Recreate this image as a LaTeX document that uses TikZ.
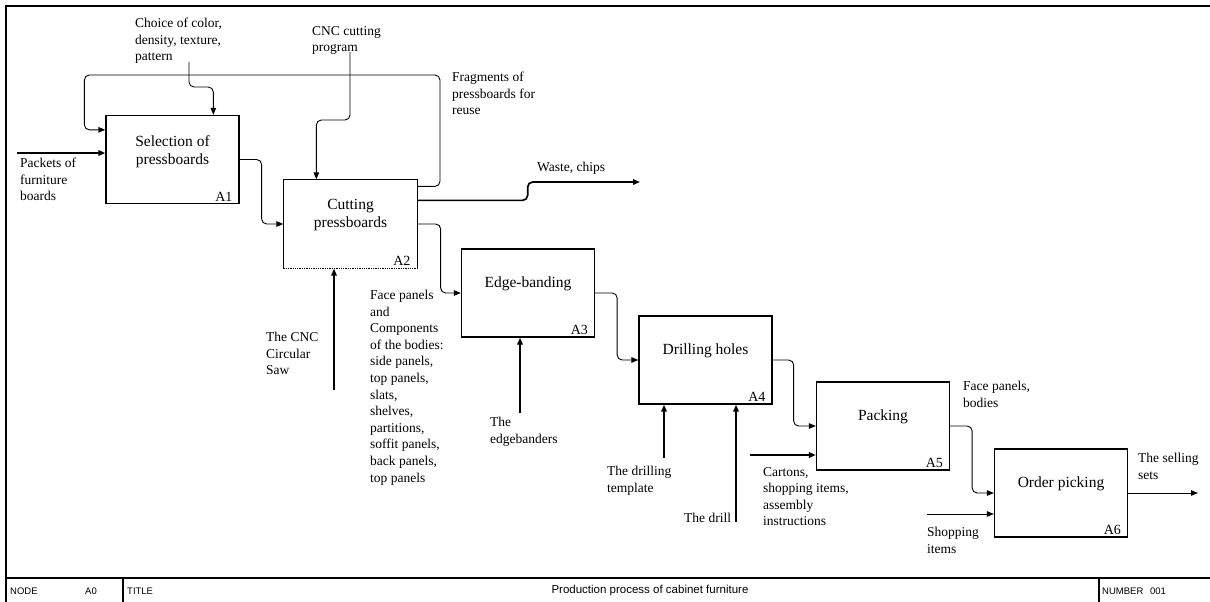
\documentclass[tikz,border=0pt]{standalone}
\usepackage{fontspec}
\setmainfont{Liberation Serif}
\newfontfamily\footfont{Liberation Sans}
\usetikzlibrary{arrows.meta,calc}
\begin{document}
\begin{tikzpicture}[x=1pt,y=-1pt,
  box/.style={draw, line width=1.3pt, minimum width=133pt, minimum height=88pt, inner sep=0pt},
  ttl/.style={font=\fontsize{15.5}{18.5}\selectfont, align=center, inner sep=0pt},
  boxid/.style={font=\fontsize{14}{16}\selectfont, inner sep=0pt, anchor=base east},
  lbl/.style={font=\fontsize{13.5}{16.6}\selectfont, align=left, inner sep=0pt, anchor=north west},
  foot/.style={font=\footfont\fontsize{9.5}{11}\selectfont, inner sep=0pt},
  tip/.style={-{Triangle[length=7pt,width=5.5pt]}},
  conn/.style={draw, line width=0.9pt, rounded corners=5pt, tip},
  thk/.style={draw, line width=1.7pt, rounded corners=5pt, tip},
  frame/.style={draw, line width=1.4pt}]
\useasboundingbox (0,0) rectangle (1210,602);
% frame
\draw[frame] (6,602) -- (6,6) -- (1210,6);
\draw[frame] (6,578) -- (1210,578);
\draw[frame] (123,578) -- (123,602);
\draw[frame] (1099,578) -- (1099,602);
\node[foot, anchor=west] (fnode) at (10,591) {NODE};
\node[foot] (fa0) at (91,591) {A0};
\node[foot, anchor=west] (ftitle) at (127,591) {TITLE};
\node[foot, font=\footfont\fontsize{11.5}{13}\selectfont] (fname) at (650,591) {Production process of cabinet furniture};
\node[foot, anchor=west] (fnum) at (1102,591) {NUMBER};
\node[foot] (f001) at (1158,591) {001};
% boxes
\node[box] (A1) at (172.5,159.5) {};
\node[box, draw=none] (A2) at (350.5,224) {};
\draw[line width=1.3pt] (A2.south west) -- (A2.north west) -- (A2.north east) -- (A2.south east);
\draw[line width=1.3pt, densely dotted] (A2.south west) -- (A2.south east);
\node[box] (A3) at (528,293) {};
\node[box] (A4) at (705.5,360) {};
\node[box] (A5) at (883,426) {};
\node[box] (A6) at (1061,493) {};
\node[ttl] (A1t) at ([yshift=8pt]A1.center) {Selection of\\pressboards};
\node[ttl] (A2t) at ([yshift=9pt]A2.center) {Cutting\\pressboards};
\node[ttl] (A3t) at ([yshift=9pt]A3.center) {Edge-banding};
\node[ttl] (A4t) at ([yshift=9pt]A4.center) {Drilling holes};
\node[ttl] (A5t) at ([yshift=9pt]A5.center) {Packing};
\node[ttl] (A6t) at ([yshift=9pt]A6.center) {Order picking};
\node[boxid] (A1id) at ([xshift=-7pt,yshift=3pt]A1.south east) {A1};
\node[boxid] (A2id) at ([xshift=-7pt,yshift=3pt]A2.south east) {A2};
\node[boxid] (A3id) at ([xshift=-7pt,yshift=3pt]A3.south east) {A3};
\node[boxid] (A4id) at ([xshift=-7pt,yshift=3pt]A4.south east) {A4};
\node[boxid] (A5id) at ([xshift=-7pt,yshift=3pt]A5.south east) {A5};
\node[boxid] (A6id) at ([xshift=-7pt,yshift=3pt]A6.south east) {A6};
% labels
\node[lbl] (Lpack) at (20,158) {Packets of\\furniture\\boards};
\node[lbl] (Lchoice) at (135,18) {Choice of color,\\density, texture,\\pattern};
\node[lbl] (Lcnc) at (312,26) {CNC cutting\\program};
\node[lbl] (Lfrag) at (452,72) {Fragments of\\pressboards for\\reuse};
\node[lbl] (Lwaste) at (537,162) {Waste, chips};
\node[lbl] (Lsaw) at (266,332) {The CNC\\Circular\\Saw};
\node[lbl] (Lface) at (370,290) {Face panels\\and\\Components\\of the bodies:\\side panels,\\top panels,\\slats,\\shelves,\\partitions,\\soffit panels,\\back panels,\\top panels};
\node[lbl] (Ledge) at (490,417) {The\\edgebanders};
\node[lbl] (Ltempl) at (607,466) {The drilling\\template};
\node[lbl] (Ldrill) at (684,513) {The drill};
\node[lbl] (Lcart) at (763,467) {Cartons,\\shopping items,\\assembly\\instructions};
\node[lbl] (Lfb) at (963,381) {Face panels,\\bodies};
\node[lbl] (Lshop) at (927,527) {Shopping\\items};
\node[lbl] (Lsell) at (1138,453) {The selling\\sets};
% free ends
\coordinate (pin) at (17,153);
\coordinate (c1) at (189,62);
\coordinate (c2) at (350,52);
\coordinate (wout) at (640,182);
\coordinate (m1) at (334,390);
\coordinate (m2) at (520,413);
\coordinate (m3) at (664,458);
\coordinate (m4) at (736,522);
\coordinate (i2) at (750,455);
\coordinate (i3) at (927,514);
\coordinate (o2) at (1198,493);
% connectors
\draw[thk] (pin) -- (A1.west |- pin);
\draw[conn] ([yshift=-7pt]A2.north east) -| (440,75) -| ([xshift=-21pt,yshift=-15pt]A1.north west) -- ([yshift=-15pt]A1.north west);
\draw[conn] (A1.east) -- ++(22,0) |- (A2.west);
\draw[conn] (c1) -- ++(0,25) -| ([xshift=108pt]A1.north west);
\draw[conn] (c2) -- ++(0,68) -| ([xshift=33pt]A2.north west);
\draw[thk] ([yshift=-21pt]A2.north east) -- ++(110,0) |- (wout);
\draw[conn] (A2.east) -- ++(23,0) |- (A3.west);
\draw[thk] (m1) -- (m1 |- A2.south);
\draw[thk] (m2) -- (m2 |- A3.south);
\draw[conn] (A3.east) -- ++(22,0) |- (A4.west);
\draw[thk] (m3) -- (m3 |- A4.south);
\draw[thk] (m4) -- (m4 |- A4.south);
\draw[conn] (A4.east) -- ++(21,0) |- (A5.west);
\draw[thk] (i2) -- (A5.west |- i2);
\draw[conn] (A5.east) -- ++(22,0) |- (A6.west);
\draw[conn] (i3) -- (A6.west |- i3);
\draw[conn] (A6.east) -- (o2);
\end{tikzpicture}
\end{document}
